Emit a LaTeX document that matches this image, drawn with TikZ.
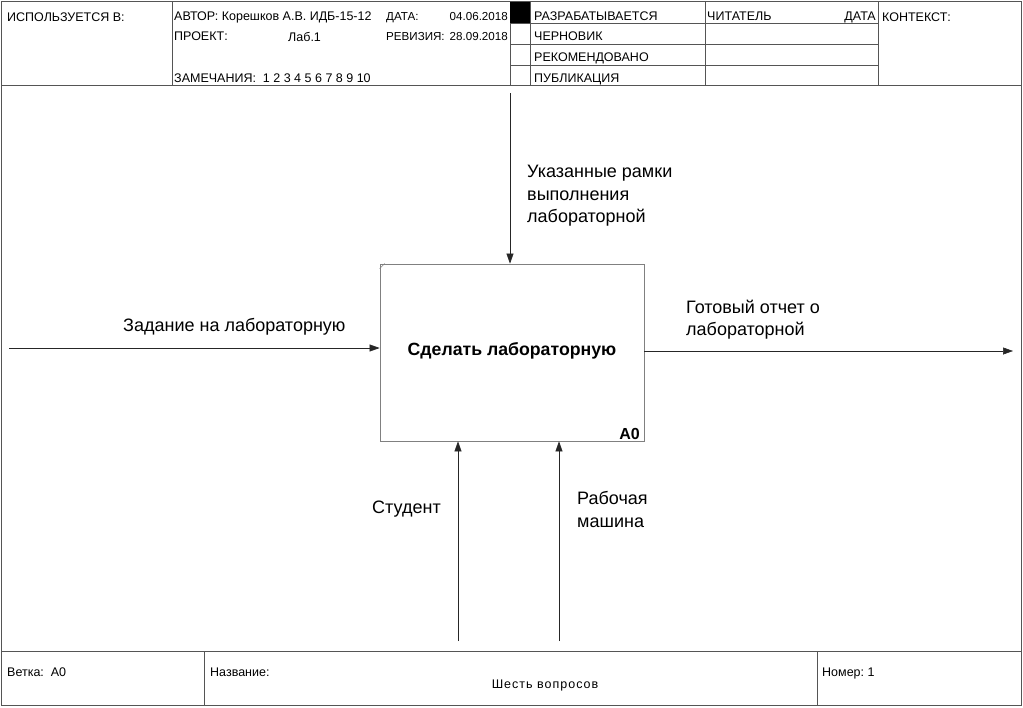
\documentclass[tikz,border=0pt]{standalone}
\usepackage{fontspec}
\setmainfont{Liberation Sans}
\usetikzlibrary{arrows.meta}
\definecolor{frame}{HTML}{555555}
\definecolor{boxc}{HTML}{808080}
\begin{document}
\begin{tikzpicture}[x=1pt,y=-1pt,
  small/.style={font=\fontsize{12.5}{14}\selectfont, inner sep=0pt, anchor=base west},
  smalld/.style={font=\fontsize{11.6}{14}\selectfont, inner sep=0pt, anchor=base west},
  big/.style={font=\fontsize{18}{22.5}\selectfont, inner sep=0pt, anchor=west, align=left},
  fline/.style={draw=frame, line width=0.8pt},
  flow/.style={draw=black!85, line width=0.6pt, -{Triangle[length=10pt,width=7pt]}},
  actbox/.style={draw=boxc, line width=0.8pt, minimum width=264pt, minimum height=177pt, inner sep=0pt}]
\useasboundingbox (0,0) rectangle (1023,707);
\fill[white] (0,0) rectangle (1023,707);
% outer frame
\draw[fline] (1.5,1.5) rectangle (1021.5,705.5);
% header
\draw[fline] (1.5,85) -- (1021.5,85);
\draw[fline] (172,1.5) -- (172,85);
\draw[fline] (510,1.5) -- (510,85);
\draw[fline] (530,1.5) -- (530,85);
\draw[fline] (705,1.5) -- (705,85);
\draw[fline] (878,1.5) -- (878,85);
\foreach \yy in {23,44,65} \draw[fline] (510,\yy) -- (878,\yy);
\fill[black] (510,1.5) rectangle (530,23);
% header texts
\node[small] (used) at (7,21) {ИСПОЛЬЗУЕТСЯ В:};
\node[small] (author) at (174,20) {АВТОР: Корешков А.В. ИДБ-15-12};
\node[smalld] (date) at (386,20) {ДАТА:};
\node[smalld,anchor=base east] (dateval) at (508,20) {04.06.2018};
\node[small] (proj) at (174,40) {ПРОЕКТ:};
\node[small] (projval) at (288,41.5) {Лаб.1};
\node[smalld] (rev) at (386,40) {РЕВИЗИЯ:};
\node[smalld,anchor=base east] (revval) at (508,40) {28.09.2018};
\node[small] (notes) at (174,82) {ЗАМЕЧАНИЯ:\ \ 1 2 3 4 5 6 7 8 9 10};
\node[small] (s1) at (534,20) {РАЗРАБАТЫВАЕТСЯ};
\node[small] (s2) at (534,40) {ЧЕРНОВИК};
\node[small] (s3) at (534,61) {РЕКОМЕНДОВАНО};
\node[small] (s4) at (534,82) {ПУБЛИКАЦИЯ};
\node[small] (reader) at (707,20) {ЧИТАТЕЛЬ};
\node[small,anchor=base east] (rdate) at (876,20) {ДАТА};
\node[small] (ctx) at (882,21) {КОНТЕКСТ:};
% footer
\draw[fline] (1.5,651) -- (1021.5,651);
\draw[fline] (204,651) -- (204,705.5);
\draw[fline] (817,651) -- (817,705.5);
\node[small] (branch) at (7,676) {Ветка:\ \ А0};
\node[small] (title) at (210,676) {Название:};
\node[small,anchor=base] (titleval) at (545,688) {\addfontfeature{LetterSpace=8}Шесть вопросов};
\node[small] (num) at (822,676) {Номер:\ 1};
% activity box
\node[actbox] (A0) at (512,352.5) {};
\draw[boxc, line width=0.6pt] (A0.north west) ++(0,5) -- ++(5,-5);
\node[font=\bfseries\fontsize{17.7}{20}\selectfont, inner sep=0pt] (A0t) at (512,351) {Сделать лабораторную};
\node[font=\bfseries\fontsize{16}{18}\selectfont, inner sep=0pt, anchor=base east] (A0n) at (640,439) {A0};
% arrows
\coordinate (inp) at (9,348);
\coordinate (ctl) at (510,93);
\coordinate (outp) at (1013,351);
\coordinate (m1) at (458,641);
\coordinate (m2) at (559,641);
\draw[flow] (inp) -- (inp -| A0.west);
\draw[flow] (ctl) -- (ctl |- A0.north);
\draw[flow] (A0.east |- outp) -- (outp);
\draw[flow] (m1) -- (m1 |- A0.south);
\draw[flow] (m2) -- (m2 |- A0.south);
% labels
\node[big] (linp) at (123,327) {Задание на лабораторную};
\node[big, anchor=north west] (lctl) at (527,165) {Указанные рамки\\выполнения\\лабораторной};
\node[big, anchor=north west] (lout) at (686,299.5) {Готовый отчет о\\лабораторной};
\node[big] (lm1) at (372,509) {Студент};
\node[big, anchor=north west] (lm2) at (577,491.5) {Рабочая\\машина};
\end{tikzpicture}
\end{document}
